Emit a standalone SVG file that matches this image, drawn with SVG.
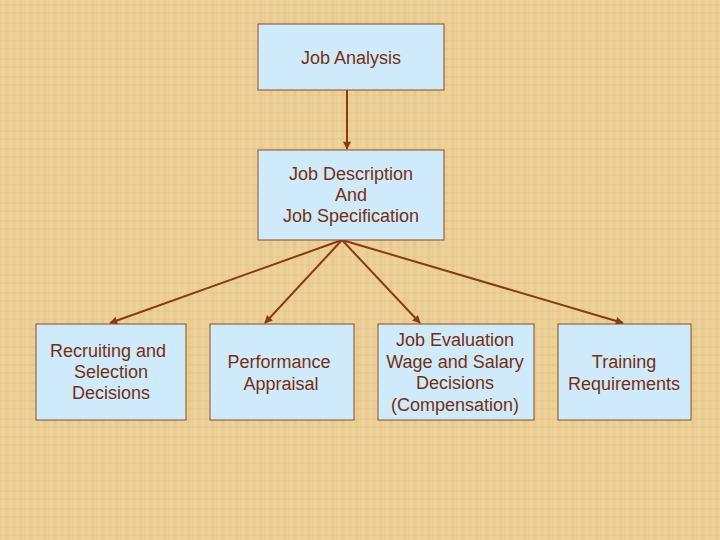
<svg xmlns="http://www.w3.org/2000/svg" width="720" height="540" viewBox="0 0 720 540">
<defs>
<pattern id="paper" width="24" height="18" patternUnits="userSpaceOnUse">
<rect width="24" height="18" fill="#ebcf95"/>
<path d="M3 0V18M11 0V18M17 0V18" stroke="#f3e0b4" stroke-width="1" opacity="0.55"/>
<path d="M0 5H24M0 13H24" stroke="#d8b877" stroke-width="1" opacity="0.35"/>
<path d="M7 0V18M21 0V18" stroke="#d6b574" stroke-width="1" opacity="0.35"/>
</pattern>
<marker id="ah" viewBox="0 0 10 10" refX="9" refY="5" markerWidth="9" markerHeight="8" orient="auto" markerUnits="userSpaceOnUse">
<path d="M0 0L10 5L0 10z" fill="#8a3a10"/>
</marker>
</defs>
<style>
.box{fill:#cfeafb;stroke:#8a4a25;stroke-width:1}
.t{font-family:"Liberation Sans",Arial,sans-serif;font-size:18px;fill:#76300f;text-anchor:middle}
.c{stroke:#8a3a10;stroke-width:2;fill:none;marker-end:url(#ah)}
</style>
<rect width="720" height="540" fill="url(#paper)"/>
<g id="connectors">
<line class="c" x1="347" y1="90" x2="347" y2="149"/>
<line class="c" x1="342" y1="240" x2="110" y2="323"/>
<line class="c" x1="342" y1="240" x2="265" y2="323"/>
<line class="c" x1="342" y1="240" x2="420" y2="323"/>
<line class="c" x1="342" y1="240" x2="623" y2="323"/>
</g>
<g id="job-analysis">
<rect class="box" x="258" y="24" width="186" height="66"/>
<text class="t" x="351" y="64">Job Analysis</text>
</g>
<g id="job-description">
<rect class="box" x="258" y="150" width="186" height="90"/>
<text class="t" x="351" y="180">Job Description</text>
<text class="t" x="351" y="201">And</text>
<text class="t" x="351" y="222">Job Specification</text>
</g>
<g id="recruiting">
<rect class="box" x="36" y="324" width="150" height="96"/>
<text class="t" x="108" y="357">Recruiting and</text>
<text class="t" x="111" y="378">Selection</text>
<text class="t" x="111" y="399">Decisions</text>
</g>
<g id="performance">
<rect class="box" x="210" y="324" width="144" height="96"/>
<text class="t" x="279" y="368">Performance</text>
<text class="t" x="281" y="390">Appraisal</text>
</g>
<g id="job-evaluation">
<rect class="box" x="378" y="324" width="156" height="96"/>
<text class="t" x="455" y="346">Job Evaluation</text>
<text class="t" x="455" y="368">Wage and Salary</text>
<text class="t" x="455" y="389">Decisions</text>
<text class="t" x="455" y="411">(Compensation)</text>
</g>
<g id="training">
<rect class="box" x="558" y="324" width="133" height="96"/>
<text class="t" x="624" y="368">Training</text>
<text class="t" x="624" y="390">Requirements</text>
</g>
</svg>
